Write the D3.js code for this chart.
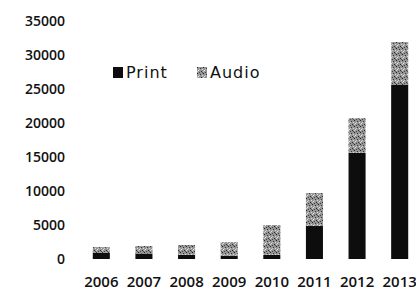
<!DOCTYPE html>
<html>
<head>
<meta charset="utf-8">
<script src="https://cdn.jsdelivr.net/npm/d3@7"></script>
<style>
body { margin: 0; background: #fff; }
text { fill: #111; }
.tick-y { font-family: "Open Sans", sans-serif; font-weight: 600; font-size: 14px; }
.tick-x { font-family: "Open Sans", sans-serif; font-weight: 600; font-size: 15px; }
.legend { font-family: "DejaVu Sans", sans-serif; font-size: 16px; letter-spacing: 1px; }
</style>
</head>
<body>
<svg></svg>
<script>
const years = ["2006", "2007", "2008", "2009", "2010", "2011", "2012", "2013"]
const print = [900, 800, 600, 500, 600, 4850, 15600, 25600]
const audio = [850, 1100, 1450, 2000, 4400, 4850, 5100, 6300]
const yTicks = [0, 5000, 10000, 15000, 20000, 25000, 30000, 35000]
const seriesNames = ["Print", "Audio"]

const svg = d3.select("svg")
	.attr("width", 416)
	.attr("height", 297)

// speckled grey like the scanned halftone
const defs = svg.append("defs")
const pat = defs.append("pattern")
	.attr("id", "speckle")
	.attr("width", 6)
	.attr("height", 6)
	.attr("patternUnits", "userSpaceOnUse")
pat.append("rect").attr("width", 6).attr("height", 6).attr("fill", "#959595")
// a few dark and light specks per tile
const specks = [[0, 0, "#222"], [3, 1, "#3a3a3a"], [5, 2, "#dcdcdc"], [1, 3, "#e6e6e6"],
	[4, 4, "#2a2a2a"], [2, 5, "#444"], [0, 4, "#d0d0d0"], [5, 5, "#555"], [2, 2, "#c8c8c8"]]
pat.selectAll("rect.speck")
	.data(specks)
	.enter()
	.append("rect")
	.attr("class", "speck")
	.attr("x", d => d[0])
	.attr("y", d => d[1])
	.attr("width", 1)
	.attr("height", 1)
	.attr("fill", d => d[2])

const colors = ["#0d0d0d", "url(#speckle)"]

const xScale = d3.scaleBand()
	.domain(years)
	.range([80, 421])
	.paddingInner(0.6)
	.paddingOuter(0.3)

const yScale = d3.scaleLinear()
	.domain([0, 35000])
	.range([259, 21])

const stackData = years.map((y, i) => ({ year: y, Print: print[i], Audio: audio[i] }))
const stacked = d3.stack().keys(seriesNames)(stackData)

svg.selectAll("g.series")
	.data(stacked)
	.enter()
	.append("g")
	.attr("class", "series")
	.style("fill", (d, i) => colors[i])
	.selectAll("rect")
	.data(d => d)
	.enter()
	.append("rect")
	.attr("x", d => xScale(d.data.year))
	.attr("y", d => yScale(d[1]))
	.attr("width", xScale.bandwidth())
	.attr("height", d => yScale(d[0]) - yScale(d[1]))

// y labels
svg.append("g")
	.selectAll("text")
	.data(yTicks)
	.enter()
	.append("text")
	.attr("class", "tick-y")
	.attr("x", 65)
	.attr("y", d => yScale(d))
	.attr("dy", "0.35em")
	.attr("text-anchor", "end")
	.text(d => d)

// x labels
svg.append("g")
	.selectAll("text")
	.data(years)
	.enter()
	.append("text")
	.attr("class", "tick-x")
	.attr("x", d => xScale(d) + xScale.bandwidth() / 2)
	.attr("y", 287)
	.attr("text-anchor", "middle")
	.text(d => d)

// legend
const legend = svg.append("g")
	.selectAll("g")
	.data(seriesNames)
	.enter()
	.append("g")
	.attr("transform", (d, i) => `translate(${113 + i * 84}, 67)`)

legend.append("rect")
	.attr("width", 10)
	.attr("height", 11)
	.style("fill", (d, i) => colors[i])

legend.append("text")
	.attr("class", "legend")
	.attr("x", 13)
	.attr("y", 11)
	.text(d => d)
</script>
</body>
</html>
